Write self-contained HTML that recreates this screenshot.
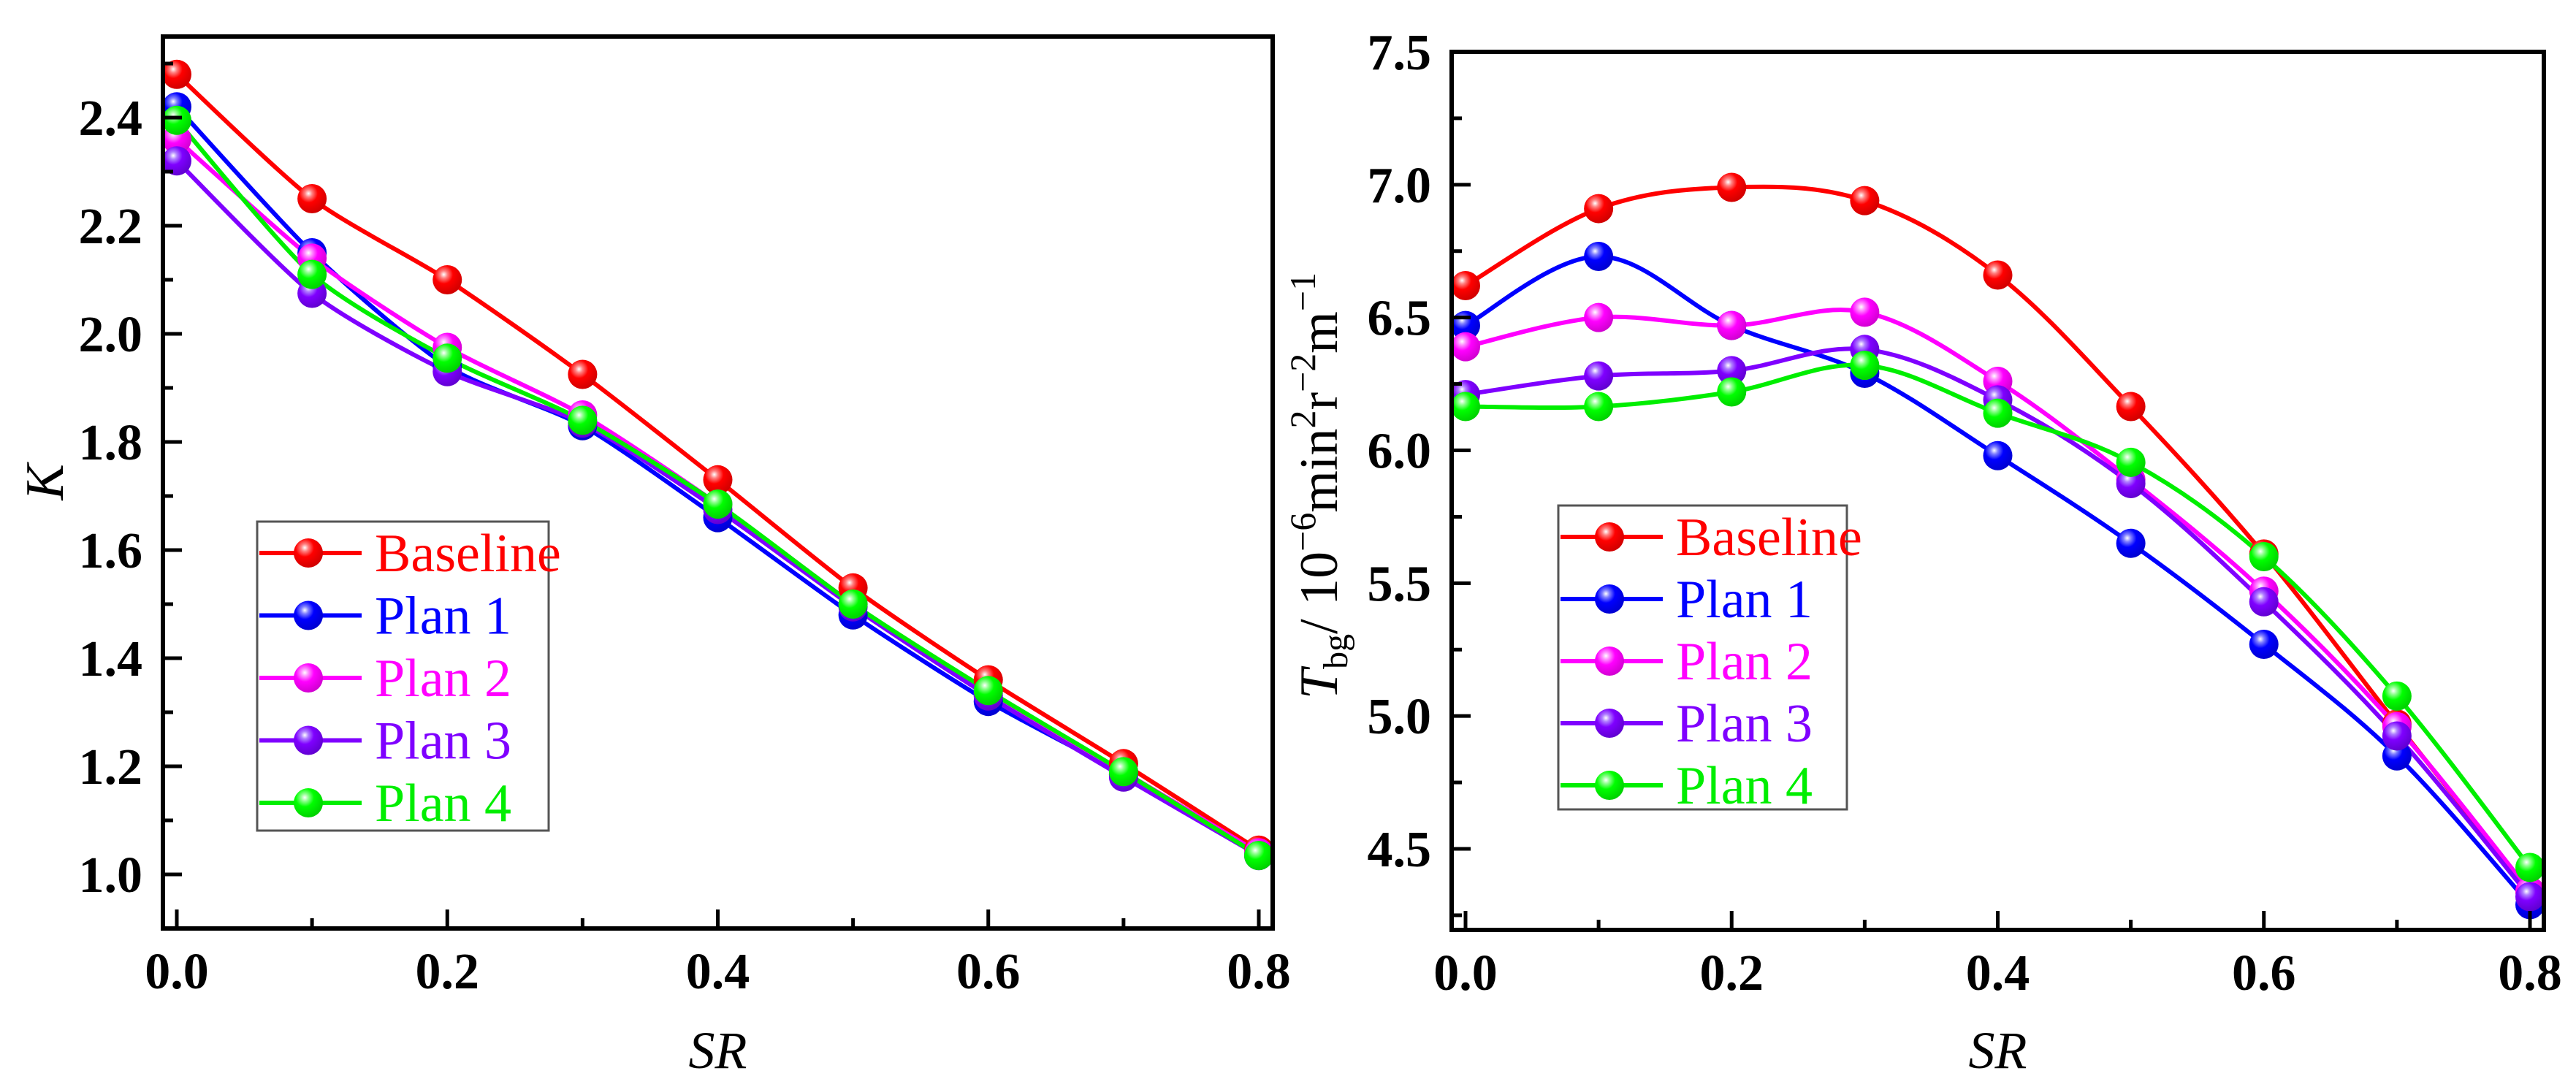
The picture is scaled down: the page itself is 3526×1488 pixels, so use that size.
<!DOCTYPE html>
<html><head><meta charset="utf-8"><style>
html,body{margin:0;padding:0;background:#fff;}
svg{display:block;}
text,tspan{font-family:"Liberation Serif",serif;}
</style></head><body>
<svg id="fig" width="3526" height="1488" viewBox="0 0 3526 1488" xmlns="http://www.w3.org/2000/svg" font-family="Liberation Serif, serif">
<defs>
<radialGradient id="gRed" cx="0.38" cy="0.32" r="0.7"><stop offset="0" stop-color="#fff"/><stop offset="0.18" stop-color="#ff8080"/><stop offset="0.45" stop-color="#ff0000"/><stop offset="1" stop-color="#d00000"/></radialGradient>
<radialGradient id="gBlue" cx="0.38" cy="0.32" r="0.7"><stop offset="0" stop-color="#fff"/><stop offset="0.18" stop-color="#8080ff"/><stop offset="0.45" stop-color="#0000ff"/><stop offset="1" stop-color="#0000d0"/></radialGradient>
<radialGradient id="gMag" cx="0.38" cy="0.32" r="0.7"><stop offset="0" stop-color="#fff"/><stop offset="0.18" stop-color="#ff90ff"/><stop offset="0.45" stop-color="#ff00ff"/><stop offset="1" stop-color="#d000d0"/></radialGradient>
<radialGradient id="gPur" cx="0.38" cy="0.32" r="0.7"><stop offset="0" stop-color="#fff"/><stop offset="0.18" stop-color="#b080ff"/><stop offset="0.45" stop-color="#7f00ff"/><stop offset="1" stop-color="#6000d0"/></radialGradient>
<radialGradient id="gGrn" cx="0.38" cy="0.32" r="0.7"><stop offset="0" stop-color="#fff"/><stop offset="0.18" stop-color="#90ff90"/><stop offset="0.45" stop-color="#00ff00"/><stop offset="1" stop-color="#00d000"/></radialGradient>
</defs>
</svg>
<script>
const categories = [0, 0.1, 0.2, 0.3, 0.4, 0.5, 0.6, 0.7, 0.8];
const seriesNames = ["Baseline", "Plan 1", "Plan 2", "Plan 3", "Plan 4"];
const kBaseline = [2.48, 2.25, 2.10, 1.925, 1.73, 1.53, 1.36, 1.205, 1.045];
const kPlan1 = [2.42, 2.15, 1.94, 1.83, 1.66, 1.48, 1.32, 1.185, 1.035];
const kPlan2 = [2.36, 2.14, 1.975, 1.85, 1.685, 1.50, 1.335, 1.19, 1.04];
const kPlan3 = [2.32, 2.075, 1.93, 1.835, 1.675, 1.495, 1.33, 1.18, 1.035];
const kPlan4 = [2.395, 2.11, 1.955, 1.84, 1.685, 1.50, 1.34, 1.19, 1.035];
const tBaseline = [6.62, 6.91, 6.99, 6.94, 6.66, 6.165, 5.61, 4.97, 4.34];
const tPlan1 = [6.47, 6.73, 6.47, 6.29, 5.98, 5.65, 5.27, 4.85, 4.29];
const tPlan2 = [6.39, 6.50, 6.47, 6.52, 6.26, 5.89, 5.47, 4.96, 4.34];
const tPlan3 = [6.21, 6.28, 6.30, 6.38, 6.19, 5.875, 5.43, 4.925, 4.32];
const tPlan4 = [6.165, 6.165, 6.22, 6.32, 6.14, 5.955, 5.60, 5.075, 4.43];
const xTickLabels = ["0.0", "0.2", "0.4", "0.6", "0.8"];
const kTickLabels = ["1.0", "1.2", "1.4", "1.6", "1.8", "2.0", "2.2", "2.4"];
const tTickLabels = ["4.5", "5.0", "5.5", "6.0", "6.5", "7.0", "7.5"];

const colors = ["#ff0000", "#0000ff", "#ff00ff", "#7f00ff", "#00ee00"];
const grads = ["gRed", "gBlue", "gMag", "gPur", "gGrn"];
const NS = "http://www.w3.org/2000/svg";
const FONT = "Liberation Serif, serif";
const svg = document.getElementById("fig");
function mk(tag, attrs, parent) {
  const e = document.createElementNS(NS, tag);
  for (const k in attrs) e.setAttribute(k, attrs[k]);
  if (tag === "text") e.setAttribute("font-family", FONT);
  (parent || svg).appendChild(e);
  return e;
}
function spline(pts, t) {
  let d = "M" + pts[0][0] + "," + pts[0][1];
  for (let i = 0; i < pts.length - 1; i++) {
    const p0 = pts[Math.max(0, i - 1)], p1 = pts[i], p2 = pts[i + 1], p3 = pts[Math.min(pts.length - 1, i + 2)];
    const c1x = p1[0] + (p2[0] - p0[0]) * t, c1y = p1[1] + (p2[1] - p0[1]) * t;
    const c2x = p2[0] - (p3[0] - p1[0]) * t, c2y = p2[1] - (p3[1] - p1[1]) * t;
    d += " C" + c1x + "," + c1y + " " + c2x + "," + c2y + " " + p2[0] + "," + p2[1];
  }
  return d;
}
function panel(cfg) {
  const g = mk("g", {});
  
  
  const xs = v => cfg.x0 + (v - 0) / 0.8 * (cfg.x8 - cfg.x0);
  const ys = v => cfg.yA + (v - cfg.vA) / (cfg.vB - cfg.vA) * (cfg.yB - cfg.yA);
  cfg.series.forEach((vals, si) => {
    const pts = categories.map((c, i) => [xs(c), ys(vals[i])]);
    const p = mk("path", {d: spline(pts, cfg.tension), fill: "none", stroke: colors[si], "stroke-width": 6}, g);
    
    
  });
  cfg.series.forEach((vals, si) => {
    categories.forEach((c, i) => {
      const m = mk("circle", {cx: xs(c), cy: ys(vals[i]), r: 20, fill: "url(#" + grads[si] + ")"}, g);
      
      
    });
  });
  const f = mk("rect", {x: cfg.L, y: cfg.T, width: cfg.R - cfg.L, height: cfg.B - cfg.T, fill: "none", stroke: "#000", "stroke-width": 6}, g);
  
  
  categories.forEach((c, i) => {
    const x = xs(c), len = i % 2 === 0 ? 26 : 14;
    const tk = mk("line", {x1: x, x2: x, y1: cfg.B, y2: cfg.B - len, stroke: "#000", "stroke-width": 5}, g);
    
    
  });
  xTickLabels.forEach(l => {
    const t = mk("text", {x: xs(parseFloat(l)), y: cfg.B + 82, "text-anchor": "middle", "font-size": 70, "font-weight": "bold"}, g);
    t.textContent = l;
    
    
  });
  for (let v = cfg.minorStart; v <= cfg.vTop + 1e-9; v += cfg.minor) {
    const y = ys(v);
    if (y < cfg.T + 2 || y > cfg.B - 2) continue;
    const major = cfg.yLabels.some(l => Math.abs(parseFloat(l) - v) < 1e-6);
    const tk = mk("line", {x1: cfg.L, x2: cfg.L + (major ? 26 : 14), y1: y, y2: y, stroke: "#000", "stroke-width": 5}, g);
    
    
  }
  cfg.yLabels.forEach(l => {
    const t = mk("text", {x: cfg.L - 28, y: ys(parseFloat(l)) + 24, "text-anchor": "end", "font-size": 70, "font-weight": "bold"}, g);
    t.textContent = l;
    
    
  });
  const xt = mk("text", {x: (cfg.L + cfg.R) / 2, y: 1462, "text-anchor": "middle", "font-size": 72, "font-style": "italic"}, g);
  xt.textContent = "SR";
  
  
  const lg = mk("g", {}, g);
  
  
  const lb = mk("rect", {x: cfg.lgX, y: cfg.lgY, width: cfg.lgW, height: cfg.lgH, fill: "#fff", stroke: "#555", "stroke-width": 3}, lg);
  
  
  seriesNames.forEach((n, si) => {
    const y = cfg.lgY + 43 + si * cfg.lgStep;
    const e = mk("g", {}, lg);
    
    
    mk("line", {x1: cfg.lgX + 3, x2: cfg.lgX + 143, y1: y, y2: y, stroke: colors[si], "stroke-width": 6}, e);
    mk("circle", {cx: cfg.lgX + 70, cy: y, r: 20, fill: "url(#" + grads[si] + ")"}, e);
    const t = mk("text", {x: cfg.lgX + 161, y: y + 25, "font-size": 74, fill: colors[si]}, e);
    t.textContent = n;
  });
}
panel({name: "k-chart", L: 223, R: 1742, T: 50, B: 1271, x0: 242, x8: 1723,
  yA: 1197, vA: 1.0, yB: 161, vB: 2.4, vTop: 2.55, minorStart: 1.0, minor: 0.1,
  yLabels: kTickLabels, tension: 0.12,
  series: [kBaseline, kPlan1, kPlan2, kPlan3, kPlan4],
  lgX: 352, lgY: 714, lgW: 399, lgH: 423, lgStep: 85.5});
panel({name: "t-chart", L: 1987, R: 3482, T: 71, B: 1273, x0: 2006, x8: 3463,
  yA: 1162, vA: 4.5, yB: 71, vB: 7.5, vTop: 7.5, minorStart: 4.25, minor: 0.25,
  yLabels: tTickLabels, tension: 0.17,
  series: [tBaseline, tPlan1, tPlan2, tPlan3, tPlan4],
  lgX: 2133, lgY: 692, lgW: 395, lgH: 416, lgStep: 85});
const ky = mk("text", {x: 0, y: 0, transform: "translate(86,660) rotate(-90)", "text-anchor": "middle", "font-size": 74, "font-style": "italic"});
ky.textContent = "K";


const ty = mk("text", {x: 0, y: 0, transform: "translate(1830,665) rotate(-90)", "text-anchor": "middle", "font-size": 74});


ty.innerHTML = '<tspan font-style="italic">T</tspan><tspan font-size="48" dy="14">bg</tspan><tspan dy="-14">/ 10</tspan><tspan font-size="50" dy="-30">−6</tspan><tspan dy="30">min</tspan><tspan font-size="50" dy="-30">2</tspan><tspan dy="30">r</tspan><tspan font-size="50" dy="-30">−2</tspan><tspan dy="30">m</tspan><tspan font-size="50" dy="-30">−1</tspan>';
</script>
</body></html>
